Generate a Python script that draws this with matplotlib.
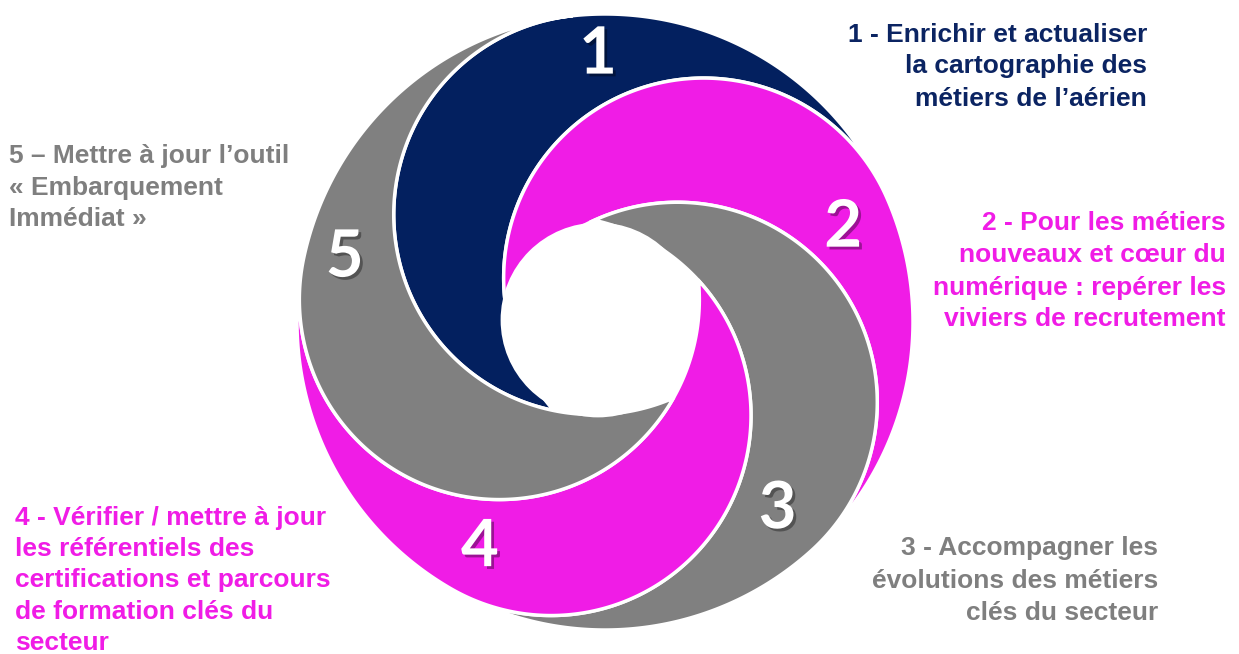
import numpy as np
import matplotlib
matplotlib.use("Agg")
import matplotlib.pyplot as plt
from matplotlib.patches import Polygon, Circle
import matplotlib.patheffects as pe

# --- data ---
steps = ["1", "2", "3", "4", "5"]
piece_colors = ["#03205F", "#F01CE6", "#808080", "#F01CE6", "#808080"]
text_colors = ["#0B2462", "#F01CE6", "#7F7F7F", "#F01CE6", "#7F7F7F"]
labels = [
    ["1 - Enrichir et actualiser", "la cartographie des", "métiers de l\u2019aérien"],
    ["2 - Pour les métiers", "nouveaux et cœur du", "numérique : repérer les", "viviers de recrutement"],
    ["3 - Accompagner les", "évolutions des métiers", "clés du secteur"],
    ["4 - Vérifier / mettre à jour", "les référentiels des", "certifications et parcours",
     "de formation clés du", "secteur"],
    ["5 \u2013 Mettre à jour l\u2019outil", "« Embarquement", "Immédiat »"],
]

# --- geometry (pixels) ---
W, H = 1239, 654
OX, OY = 605, 322
R = 308          # outer circle
d = 108          # offset of each swirl circle
r = R - d        # swirl circle radius (internally tangent)
phi0 = 96.0
hole_r = 96

fig = plt.figure(figsize=(W / 100, H / 100), dpi=100)
ax = fig.add_axes([0, 0, 1, 1])
ax.set_xlim(0, W)
ax.set_ylim(H, 0)
ax.set_aspect("equal")
ax.axis("off")

def to_screen(pts):
    pts = np.asarray(pts)
    return np.column_stack([OX + pts[:, 0], OY - pts[:, 1]])

phis = np.radians([phi0 - 72 * k for k in range(5)])
centers = [d * np.array([np.cos(p), np.sin(p)]) for p in phis]

for k in range(5):
    pk, pn = phis[k], phis[(k + 1) % 5]
    ck, cn = centers[k], centers[(k + 1) % 5]
    # inner intersection of circle k and circle k+1
    bis = (pk + pn) / 2 if k < 4 else (pk + pn + 2 * np.pi) / 2
    u = np.array([np.cos(bis), np.sin(bis)])
    s = d * np.cos(np.radians(36)) - np.sqrt(r**2 - (d * np.sin(np.radians(36)))**2)
    X = s * u
    a_end = np.arctan2(X[1] - ck[1], X[0] - ck[0])
    while a_end < pk:
        a_end += 2 * np.pi
    t1 = np.linspace(pk, a_end, 200)
    arc1 = ck + r * np.column_stack([np.cos(t1), np.sin(t1)])
    b_start = np.arctan2(X[1] - cn[1], X[0] - cn[0])
    while b_start < pn:
        b_start += 2 * np.pi
    t2 = np.linspace(b_start, pn, 200)
    arc2 = cn + r * np.column_stack([np.cos(t2), np.sin(t2)])
    pn_ = pn
    while pn_ > pk:
        pn_ -= 2 * np.pi
    t3 = np.linspace(pn_, pk, 200)
    arc3 = R * np.column_stack([np.cos(t3), np.sin(t3)])
    pts = np.vstack([arc1, arc2, arc3])
    ax.add_patch(Polygon(to_screen(pts), closed=True, facecolor=piece_colors[k],
                         edgecolor="white", linewidth=2.5, joinstyle="miter", zorder=2))

ax.add_patch(Circle((OX - 7, OY - 2), hole_r, facecolor="white", edgecolor="white",
                    linewidth=2, zorder=3))

# big step numbers, placed by (radius, angle) around the centre
digit_pos = [(267, 91.5), (256, 21.5), (255, -47.4), (258, -119.0), (268, 166.2)]
for k in range(5):
    rad, ang = digit_pos[k]
    a = np.radians(ang)
    x, y = OX + rad * np.cos(a), OY - rad * np.sin(a)
    ax.text(x, y, steps[k], color="white", fontsize=47, fontweight="bold",
            family="Lato", ha="center", va="center", zorder=4,
            path_effects=[pe.withSimplePatchShadow(offset=(2, -2), shadow_rgbFace="black",
                                                   alpha=0.35)])

# side texts: (x, first line center y, line step, alignment)
text_layout = [
    (1147, 33, 32, "right"),
    (1226, 222, 32, "right"),
    (1158, 547, 32.5, "right"),
    (15, 516, 31.5, "left"),
    (9, 155, 31, "left"),
]
for k in range(5):
    x, y0, dy, ha = text_layout[k]
    for i, line in enumerate(labels[k]):
        ax.text(x, y0 + i * dy + 8.5, line, color=text_colors[k], fontsize=19,
                fontweight="bold", family="Liberation Sans", ha=ha, va="baseline",
                zorder=5)

fig.savefig("out.png", dpi=100)
plt.close(fig)
